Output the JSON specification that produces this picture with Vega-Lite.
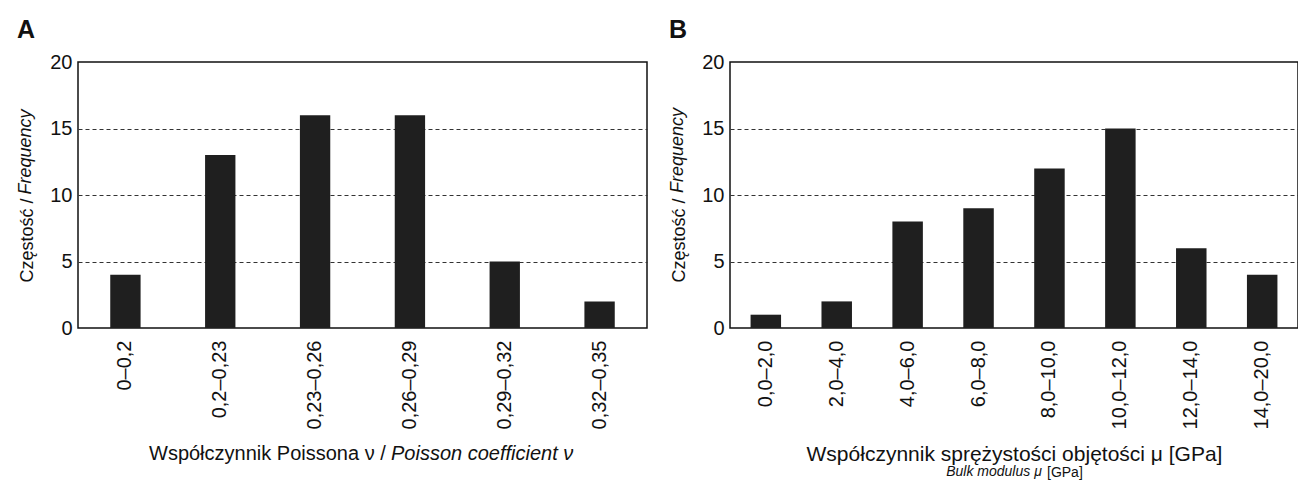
{
  "$schema": "https://vega.github.io/schema/vega-lite/v6.json",
  "padding": {"left": 17, "top": 18, "right": 0, "bottom": 0},
  "background": "white",
  "spacing": 21,
  "config": {
    "font": "Liberation Sans",
    "view": {"stroke": "#111", "strokeWidth": 1.5},
    "axis": {"labelColor": "#111", "titleColor": "#111", "ticks": false, "tickSize": 0, "domain": false, "labelFontSize": 20, "titleFontSize": 18, "titleFontWeight": "normal", "labelFont": "Liberation Sans", "titleFont": "Liberation Sans"},
    "title": {"fontSize": 25, "fontWeight": "bold", "anchor": "start", "frame": "bounds", "color": "#111", "font": "Liberation Sans", "offset": 8}
  },
  "datasets": {
    "a": [
      {"bin": "0–0,2", "count": 4},
      {"bin": "0,2–0,23", "count": 13},
      {"bin": "0,23–0,26", "count": 16},
      {"bin": "0,26–0,29", "count": 16},
      {"bin": "0,29–0,32", "count": 5},
      {"bin": "0,32–0,35", "count": 2}
    ],
    "b": [
      {"bin": "0,0–2,0", "count": 1},
      {"bin": "2,0–4,0", "count": 2},
      {"bin": "4,0–6,0", "count": 8},
      {"bin": "6,0–8,0", "count": 9},
      {"bin": "8,0–10,0", "count": 12},
      {"bin": "10,0–12,0", "count": 15},
      {"bin": "12,0–14,0", "count": 6},
      {"bin": "14,0–20,0", "count": 4}
    ]
  },
  "hconcat": [
    {
      "title": {"text": "A"},
      "vconcat": [
        {
          "title": {"text": "Frequency", "orient": "left", "anchor": "middle", "frame": "bounds", "baseline": "top", "fontSize": 18, "fontStyle": "italic", "fontWeight": "normal", "offset": 0, "dx": 106, "dy": 17},
          "vconcat": [
            {
              "width": 569,
              "height": 266,
              "data": {"name": "a"},
              "title": {"text": "Poisson coefficient ν", "orient": "bottom", "anchor": "start", "frame": "group", "fontSize": 20, "fontStyle": "italic", "fontWeight": "normal", "offset": 0, "dx": 313, "dy": -20},
              "mark": {"type": "bar", "color": "#1f1f1f"},
              "encoding": {
                "x": {"field": "bin", "type": "nominal", "sort": null,
                  "scale": {"paddingInner": 0.68, "paddingOuter": 0.34},
                  "axis": {"labelAngle": -90, "labelPadding": 12, "labelOverlap": false, "title": "Współczynnik Poissona ν /", "titleFontSize": 20, "titleAlign": "left", "titleX": 70.5, "titlePadding": 15, "grid": false}},
                "y": {"field": "count", "type": "quantitative", "scale": {"domain": [0, 20]},
                  "axis": {"values": [0, 5, 10, 15, 20], "title": "Częstość /", "titleAlign": "left", "titleY": 220, "labelPadding": 6, "titlePadding": 13, "grid": true, "gridDash": [4, 3],
                    "gridColor": {"condition": {"test": "datum.value == 0 || datum.value == 20", "value": "transparent"}, "value": "#333"}}}
              }
            }
          ]
        }
      ]
    },
    {
      "title": {"text": "B"},
      "vconcat": [
        {
          "title": {"text": "[GPa]", "orient": "bottom", "anchor": "start", "frame": "bounds", "fontSize": 14, "fontStyle": "normal", "fontWeight": "normal", "offset": 0, "dx": 378, "dy": -14},
          "vconcat": [
            {
              "title": {"text": "Frequency", "orient": "left", "anchor": "middle", "frame": "bounds", "baseline": "top", "fontSize": 18, "fontStyle": "italic", "fontWeight": "normal", "offset": 0, "dx": 115, "dy": 17},
              "vconcat": [
                {
                  "width": 568,
                  "height": 266,
                  "data": {"name": "b"},
                  "title": {"text": "Bulk modulus μ", "orient": "bottom", "anchor": "middle", "frame": "group", "fontSize": 14, "fontStyle": "italic", "fontWeight": "normal", "offset": 0, "dx": -20},
                  "mark": {"type": "bar", "color": "#1f1f1f"},
                  "encoding": {
                    "x": {"field": "bin", "type": "nominal", "sort": null,
                      "scale": {"paddingInner": 0.57, "paddingOuter": 0.29},
                      "axis": {"labelAngle": -90, "labelPadding": 12, "labelOverlap": false, "title": "Współczynnik sprężystości objętości μ [GPa]", "titleFontSize": 21, "titlePadding": 15, "grid": false}},
                    "y": {"field": "count", "type": "quantitative", "scale": {"domain": [0, 20]},
                      "axis": {"values": [0, 5, 10, 15, 20], "title": "Częstość /", "titleAlign": "left", "titleY": 220, "labelPadding": 6, "titlePadding": 13, "grid": true, "gridDash": [4, 3],
                        "gridColor": {"condition": {"test": "datum.value == 0 || datum.value == 20", "value": "transparent"}, "value": "#333"}}}
                  }
                }
              ]
            }
          ]
        }
      ]
    }
  ]
}
